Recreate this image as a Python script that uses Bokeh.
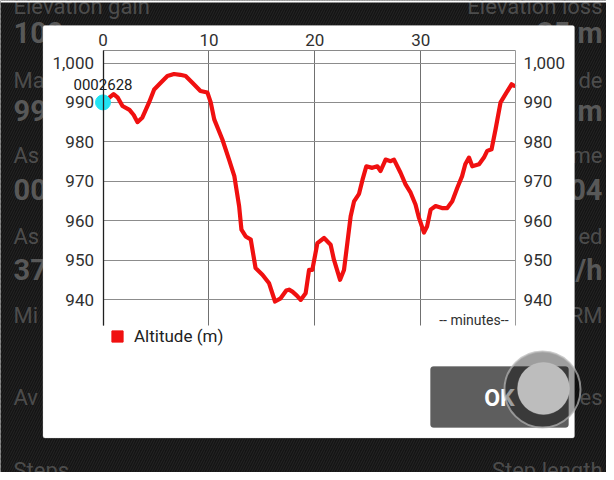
from bokeh.plotting import figure
from bokeh.models import (Range1d, LinearAxis, NumeralTickFormatter, FixedTicker, Label,
                          BoxAnnotation, Legend, LegendItem, ColumnDataSource, Grid)
from bokeh.embed import file_html
from bokeh.resources import INLINE

# ---------------- data ----------------
minutes = [0.0, 0.5, 1.0, 1.4, 1.84, 2.5, 2.9, 3.25, 3.7, 4.35, 4.83, 5.45, 6.08, 6.7, 7.3,
           7.8, 8.44, 9.2, 9.86, 10.17, 10.5, 11.27, 11.9, 12.4, 12.6, 12.85, 13.07, 13.47,
           13.95, 14.4, 15.05, 15.68, 16.24, 16.77, 17.3, 17.56, 17.88, 18.3, 18.66, 19.13,
           19.45, 19.76, 20.24, 20.87, 21.49, 21.8, 22.38, 22.75, 23.38, 23.7, 24.17, 24.5,
           24.86, 25.42, 25.9, 26.2, 26.68, 27.15, 27.47, 28.1, 28.56, 29.04, 29.5, 29.83,
           30.3, 30.6, 30.93, 31.4, 32.0, 32.5, 32.97, 33.44, 33.9, 34.2, 34.55, 34.86,
           35.5, 35.96, 36.27, 36.68, 37.06, 37.53, 38.0, 38.57, 38.8]
altitude = [990.0, 991.0, 992.1, 991.2, 989.1, 988.1, 986.8, 985.0, 986.1, 990.0, 993.3,
            995.0, 996.7, 997.2, 997.0, 996.7, 995.0, 992.9, 992.5, 990.0, 985.7, 980.6,
            975.5, 971.3, 967.9, 963.7, 957.7, 956.0, 955.2, 948.0, 946.3, 944.1, 939.5,
            940.3, 942.3, 942.5, 942.0, 941.0, 939.9, 941.6, 947.5, 947.5, 954.3, 955.6,
            953.9, 950.1, 945.0, 947.5, 961.1, 964.9, 966.8, 970.4, 973.8, 973.4, 973.8,
            972.6, 975.5, 975.1, 975.5, 972.1, 969.2, 967.1, 964.1, 960.7, 957.0, 958.6,
            962.8, 963.7, 963.2, 963.2, 964.9, 968.3, 971.3, 974.3, 976.0, 973.8, 974.3,
            976.0, 977.7, 978.1, 983.2, 990.0, 992.1, 994.6, 994.2]
x_ticks = [0, 10, 20, 30]
y_ticks = [940, 950, 960, 970, 980, 990, 1000]
x_extent = (0, 38.95)          # chart area, minutes
y_extent = (933.4, 1003.1)     # chart area, metres
marker_time = [0]
marker_alt = [990]
marker_text = "0002628"
series_name = "Altitude (m)"
x_unit_text = "-- minutes--"
button_text = "OK"

# background screen texts (partly hidden behind the dialog)
left_texts = ["Elevation gain", "100 m", "Ma", "99", "As", "00", "As", "37", "Mi", "Av", "Steps"]
right_texts = ["Elevation loss", "35 m", "de", "m", "me", "04", "ed", "/h", "RM", "es", "Step length"]
row_y = [6, 32, 80, 110, 155, 189, 236, 269, 315, 397, 470]
row_bold = [False, True, False, True, False, True, False, True, False, False, False]

FONT = "Roboto"
W, H = 606, 472
PX_MIN = 10.593     # pixels per minute
PX_M = 3.9417       # pixels per metre
X0, Y1000 = 102.5, 62.5   # canvas position of t=0 and of 1000 m

p = figure(width=W, height=H, output_backend="svg", toolbar_location=None,
           x_range=Range1d(-X0 / PX_MIN, (W - X0) / PX_MIN),
           y_range=Range1d(1000 - (H - Y1000) / PX_M, 1000 + Y1000 / PX_M),
           x_axis_location=None, y_axis_location=None,
           min_border=0, min_border_left=0, min_border_right=0, min_border_top=0,
           min_border_bottom=0,
           background_fill_color="#141414", border_fill_color="#141414",
           outline_line_color=None)
p.center = [r for r in p.center if not isinstance(r, Grid)]


def cbox(l, r, t, b, **kw):
    return BoxAnnotation(left=l, right=r, top=t, bottom=b, left_units="canvas",
                         right_units="canvas", top_units="canvas", bottom_units="canvas", **kw)


# ---- background (app screen) ----
p.add_layout(cbox(0, W, 0, H, fill_alpha=0, line_alpha=0, hatch_pattern="/",
                  hatch_color="#242424", hatch_scale=5, hatch_weight=1, level="image"))
for txt, y, b in zip(left_texts, row_y, row_bold):
    p.add_layout(Label(x=13, y=y, x_units="canvas", y_units="canvas", text=txt,
                       text_font=FONT, text_font_size="29px" if b else "22px",
                       text_font_style="bold" if b else "normal",
                       text_color="#585858" if b else "#4c4c4c",
                       text_baseline="alphabetic" if y < 10 else "middle", level="image"))
for txt, y, b in zip(right_texts, row_y, row_bold):
    p.add_layout(Label(x=602, y=y, x_units="canvas", y_units="canvas", text=txt,
                       text_align="right",
                       text_font=FONT, text_font_size="29px" if b else "22px",
                       text_font_style="bold" if b else "normal",
                       text_color="#585858" if b else "#4c4c4c",
                       text_baseline="alphabetic" if y < 10 else "middle", level="image"))
p.add_layout(cbox(0, W, 0, 2, fill_color="white", fill_alpha=1, line_alpha=0, level="image"))

# ---- dialog ----
p.add_layout(cbox(42.5, 574, 25, 437.5, fill_color="white", fill_alpha=1, line_color="#cfcfcf",
                  line_width=1, border_radius=2, level="image"))
p.add_layout(cbox(430, 568, 366, 427, fill_color="#5e5e5e", fill_alpha=1, line_color="#555555",
                  border_radius=3, level="image"))

# ---- axes (fixed to the chart area) ----
top_axis = LinearAxis(ticker=FixedTicker(ticks=x_ticks), fixed_location=y_extent[1],
                      bounds=x_extent)
left_axis = LinearAxis(ticker=FixedTicker(ticks=y_ticks), formatter=NumeralTickFormatter(format="0,0"),
                       fixed_location=x_extent[0], bounds=y_extent)
right_axis = LinearAxis(ticker=FixedTicker(ticks=y_ticks), formatter=NumeralTickFormatter(format="0,0"),
                        fixed_location=x_extent[1], bounds=y_extent)
for ax in (top_axis, left_axis, right_axis):
    ax.major_tick_out = 0
    ax.major_tick_in = 0
    ax.minor_tick_out = 0
    ax.minor_tick_in = 0
    ax.major_label_text_font = FONT
    ax.major_label_text_font_size = "17px"
    ax.major_label_text_color = "#303030"
    ax.major_label_standoff = 9
top_axis.axis_line_color = "#8a8a8a"
left_axis.axis_line_color = "#202020"
left_axis.axis_line_width = 1.3
right_axis.axis_line_color = "#9a9a9a"
right_axis.major_label_standoff = 8
top_axis.major_label_standoff = 5
p.add_layout(top_axis, "above")
p.add_layout(left_axis, "left")
p.add_layout(right_axis, "right")

grid_props = Grid.properties()
if "cross_bounds" in grid_props:
    p.add_layout(Grid(dimension=0, ticker=top_axis.ticker, bounds=x_extent, cross_bounds=y_extent,
                      grid_line_color="#707070", grid_line_width=1))
    p.add_layout(Grid(dimension=1, ticker=left_axis.ticker, bounds=y_extent, cross_bounds=x_extent,
                      grid_line_color="#8c8c8c", grid_line_width=1))
else:
    p.segment(x0=x_ticks, x1=x_ticks, y0=[y_extent[0]] * len(x_ticks), y1=[y_extent[1]] * len(x_ticks),
              line_color="#707070", line_width=1, level="underlay")
    p.segment(x0=[x_extent[0]] * len(y_ticks), x1=[x_extent[1]] * len(y_ticks), y0=y_ticks, y1=y_ticks,
              line_color="#8c8c8c", line_width=1, level="underlay")

# ---- series ----
src = ColumnDataSource(data=dict(t=minutes, alt=altitude))
p.line("t", "alt", source=src, line_color="#f01010", line_width=4.2, line_join="round",
       line_cap="round")
p.scatter(marker_time, marker_alt, size=15, fill_color="#22e3f2", line_color="#22e3f2")
p.add_layout(Label(x=marker_time[0], y=marker_alt[0], text=marker_text, text_align="center",
                   text_baseline="middle", y_offset=18, text_font=FONT, text_font_size="15px",
                   text_color="#202020"))
p.add_layout(Label(x=38.28, y=934.9, text=x_unit_text, text_align="right", text_baseline="middle",
                   text_font=FONT, text_font_size="14px", text_color="#303030"))

# legend (square swatch, not drawn in the chart itself)
swatch = p.quad(left=marker_time, right=marker_time, top=marker_alt, bottom=marker_alt,
                fill_color="#f01010", line_color="#f01010", visible=False)
legend = Legend(items=[LegendItem(label=series_name, renderers=[swatch])], location=(110, 126),
                glyph_width=14, glyph_height=14, label_text_font=FONT, label_text_font_size="17px",
                label_text_color="#222222", label_standoff=10, padding=0, margin=0,
                background_fill_alpha=0, border_line_alpha=0, label_height=14)
p.add_layout(legend)

# ---- OK button with touch feedback ----
p.add_layout(Label(x=499, y=398, x_units="canvas", y_units="canvas", text=button_text,
                   text_align="center", text_baseline="middle", text_font=FONT,
                   text_font_size="23px", text_font_style="bold", text_color="white"))
p.add_layout(cbox(504, 580, 351, 427, fill_color="black", fill_alpha=0.38, line_color="#b5b5b5",
                  line_alpha=0.7, line_width=2, border_radius=38, level="overlay"))
p.add_layout(cbox(517, 569, 362, 414, fill_color="#bdbdbd", fill_alpha=1, line_color="#d0d0d0",
                  line_width=1, border_radius=26, level="overlay"))

open("out.html", "w").write(file_html(p, INLINE))
